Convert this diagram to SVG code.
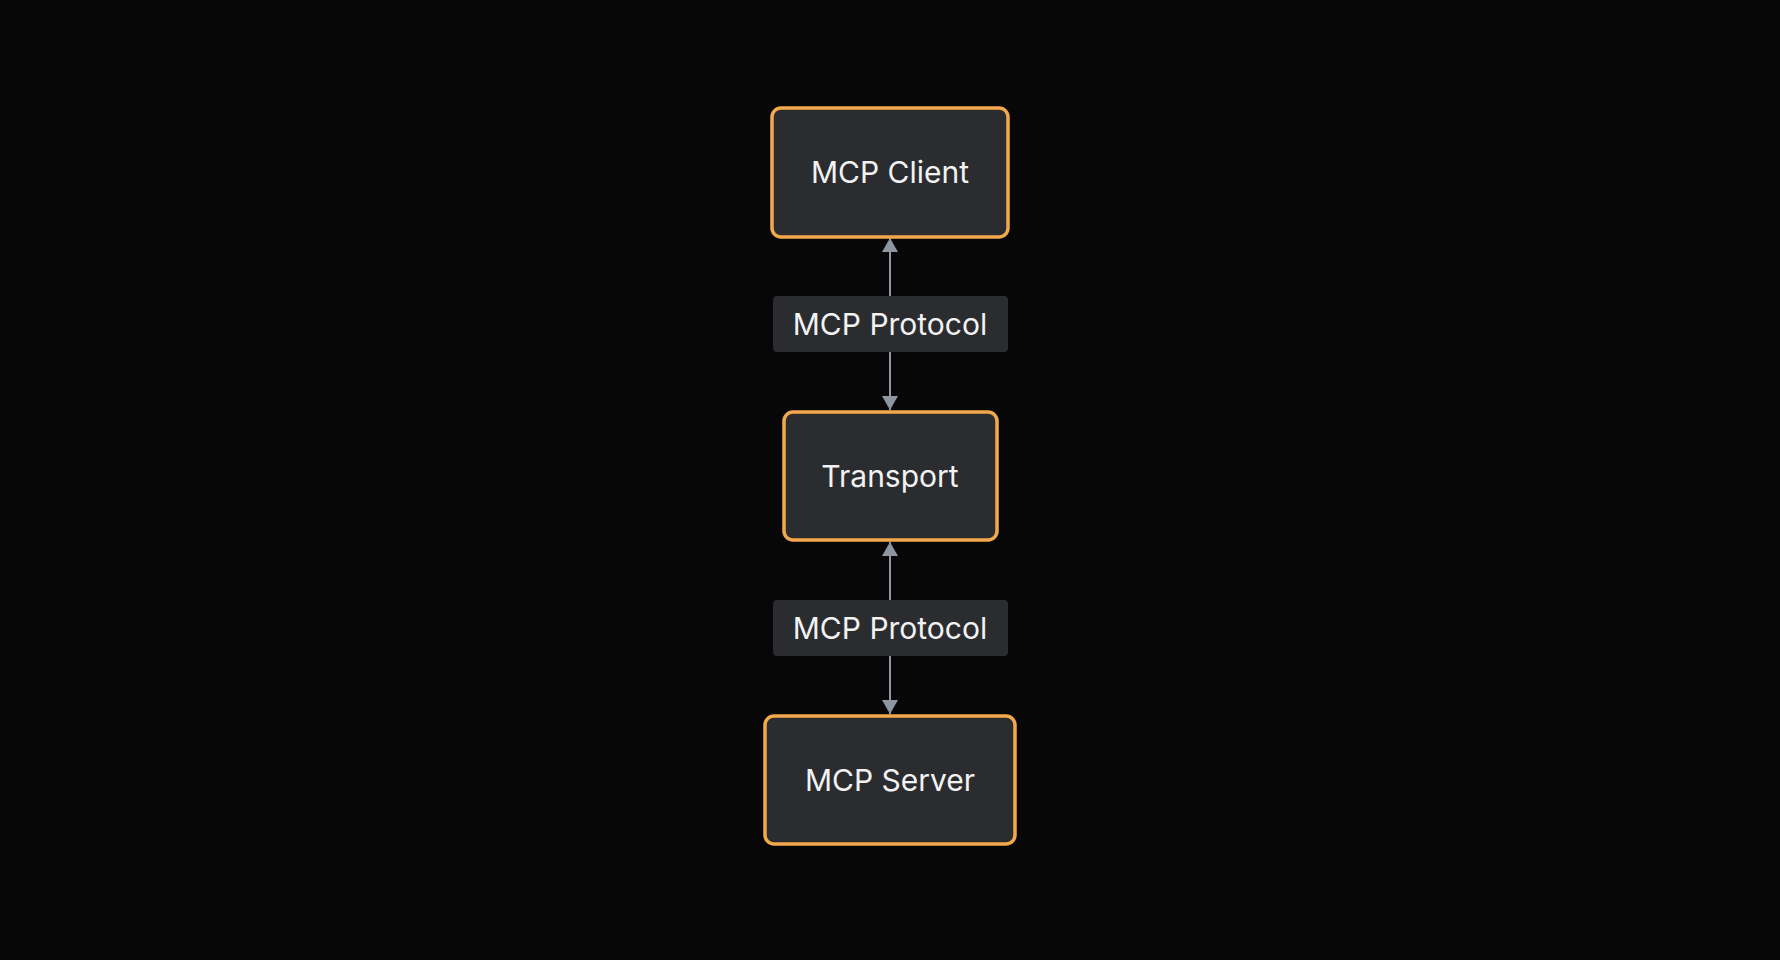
<svg xmlns="http://www.w3.org/2000/svg" width="1780" height="960" viewBox="0 0 1780 960">
<style>
.node rect{fill:#2b2c2f;stroke:#f4a84c;stroke-width:3.5}
.lbl rect{fill:#2b2c2f}
text{font-family:Inter,"Open Sans","Liberation Sans",sans-serif;font-size:30px;fill:#f2f2f2;text-anchor:middle}
.edge{stroke:#8e96a2;stroke-width:2;fill:none}
</style>
<defs>
<marker id="ah" viewBox="0 0 14 16" refX="14" refY="8" markerWidth="14" markerHeight="16" markerUnits="userSpaceOnUse" orient="auto-start-reverse">
<path d="M0,0 L14,8 L0,16 Z" fill="#8e96a2"/>
</marker>
</defs>
<rect width="1780" height="960" fill="#070707"/>
<g id="connectors">
<line class="edge" x1="890" y1="238" x2="890" y2="410" marker-start="url(#ah)" marker-end="url(#ah)"/>
<line class="edge" x1="890" y1="542" x2="890" y2="714" marker-start="url(#ah)" marker-end="url(#ah)"/>
<g class="lbl" id="label1"><rect x="773" y="296" width="235" height="56" rx="4"/><text x="890" y="335">MCP Protocol</text></g>
<g class="lbl" id="label2"><rect x="773" y="600" width="235" height="56" rx="4"/><text x="890" y="639">MCP Protocol</text></g>
</g>
<g id="client" class="node"><rect x="772" y="108" width="236" height="129" rx="9"/><text x="890" y="183">MCP Client</text></g>
<g id="transport" class="node"><rect x="784" y="412" width="213" height="128" rx="9"/><text x="890" y="487">Transport</text></g>
<g id="server" class="node"><rect x="765" y="716" width="250" height="128" rx="9"/><text x="890" y="791">MCP Server</text></g>
</svg>
